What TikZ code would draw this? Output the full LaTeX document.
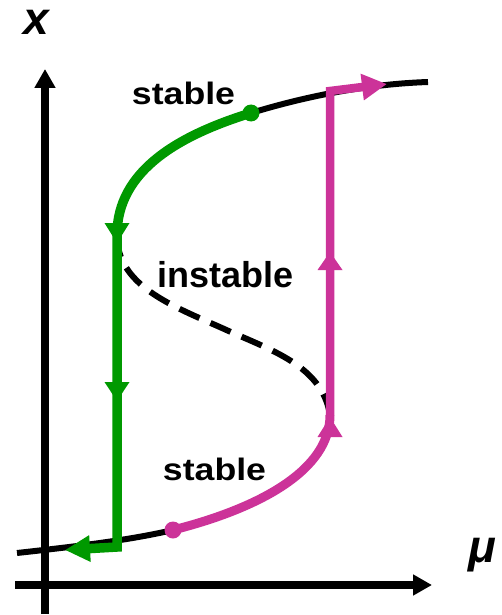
\documentclass[tikz,border=0pt]{standalone}
\usepackage{fontspec}
\setmainfont{Liberation Sans}
\usetikzlibrary{arrows.meta}
\definecolor{gr}{RGB}{0,153,0}
\definecolor{pk}{RGB}{204,51,153}
\tikzset{
  axis/.style={line width=7.5pt,-{Triangle[length=19pt,width=20pt]}},
  branch/.style={line width=6pt,black},
  unstab/.style={line width=6pt,black,dash pattern=on 22pt off 12pt},
  grpath/.style={line width=9.5pt,gr},
  pkpath/.style={line width=9pt,pk},
  lab/.style={inner sep=0pt,anchor=base,font=\bfseries},
  axlab/.style={inner sep=0pt,anchor=base,font=\fontsize{46}{50}\selectfont\bfseries\itshape}
}
\begin{document}
\begin{tikzpicture}[x=1pt,y=-1pt]
\useasboundingbox (0,0) rectangle (502,615);
% key points
\coordinate (L0) at (17,553);
\coordinate (pdot) at (173,530);
\coordinate (fR) at (330,415);
\coordinate (mid) at (222,328);
\coordinate (fL) at (117,235);
\coordinate (gdot) at (251,113);
\coordinate (U1) at (428,82);
% black branches
\draw[branch] (L0) .. controls (80,546) and (130,540) .. (pdot);
\draw[branch] (gdot) .. controls (310,95) and (370,84) .. (U1);
% unstable branch
\draw[unstab] (fR) .. controls (322,365) and (270,350) .. (mid)
              .. controls (170,305) and (117,285) .. (fL);
% green path
\draw[grpath,-{Triangle[length=25pt,width=25pt]}] (gdot) .. controls (180,135) and (117,170) .. (fL) -- (117,547) -- (65,550);
\fill[gr] (104.5,223) -- (129.5,223) -- (117,243) -- cycle;
\fill[gr] (104.5,382) -- (129.5,382) -- (117,401) -- cycle;
\fill[gr] (gdot) circle[radius=8.5pt];
% pink path
\draw[pkpath] (pdot) .. controls (260,508) and (330,470) .. (fR);
\draw[pkpath,line width=8.5pt,-{Triangle[length=25pt,width=25pt]}] (fR) -- (330,91) -- (387,84);
\fill[pk] (317.5,437) -- (342.5,437) -- (330,417) -- cycle;
\fill[pk] (317.5,270) -- (342.5,270) -- (330,252) -- cycle;
\fill[pk] (pdot) circle[radius=8.5pt];
% axes
\coordinate (o) at (45,585);
\draw[axis] (45,614) -- (45,69);
\draw[axis] (15,585) -- (432,585);
% labels
\node[axlab] (xl) at (36,35) {x};
\node[axlab] (mul) at (482,562) {μ};
\node[lab,font=\fontsize{31}{36}\selectfont\bfseries] (s1) at (183.5,105) {\scalebox{1.15}[1]{stable}};
\node[lab,font=\fontsize{36}{40}\selectfont\bfseries] (ins) at (225.5,287) {instable};
\node[lab,font=\fontsize{31}{36}\selectfont\bfseries] (s2) at (214.5,480) {\scalebox{1.15}[1]{stable}};
\end{tikzpicture}
\end{document}
